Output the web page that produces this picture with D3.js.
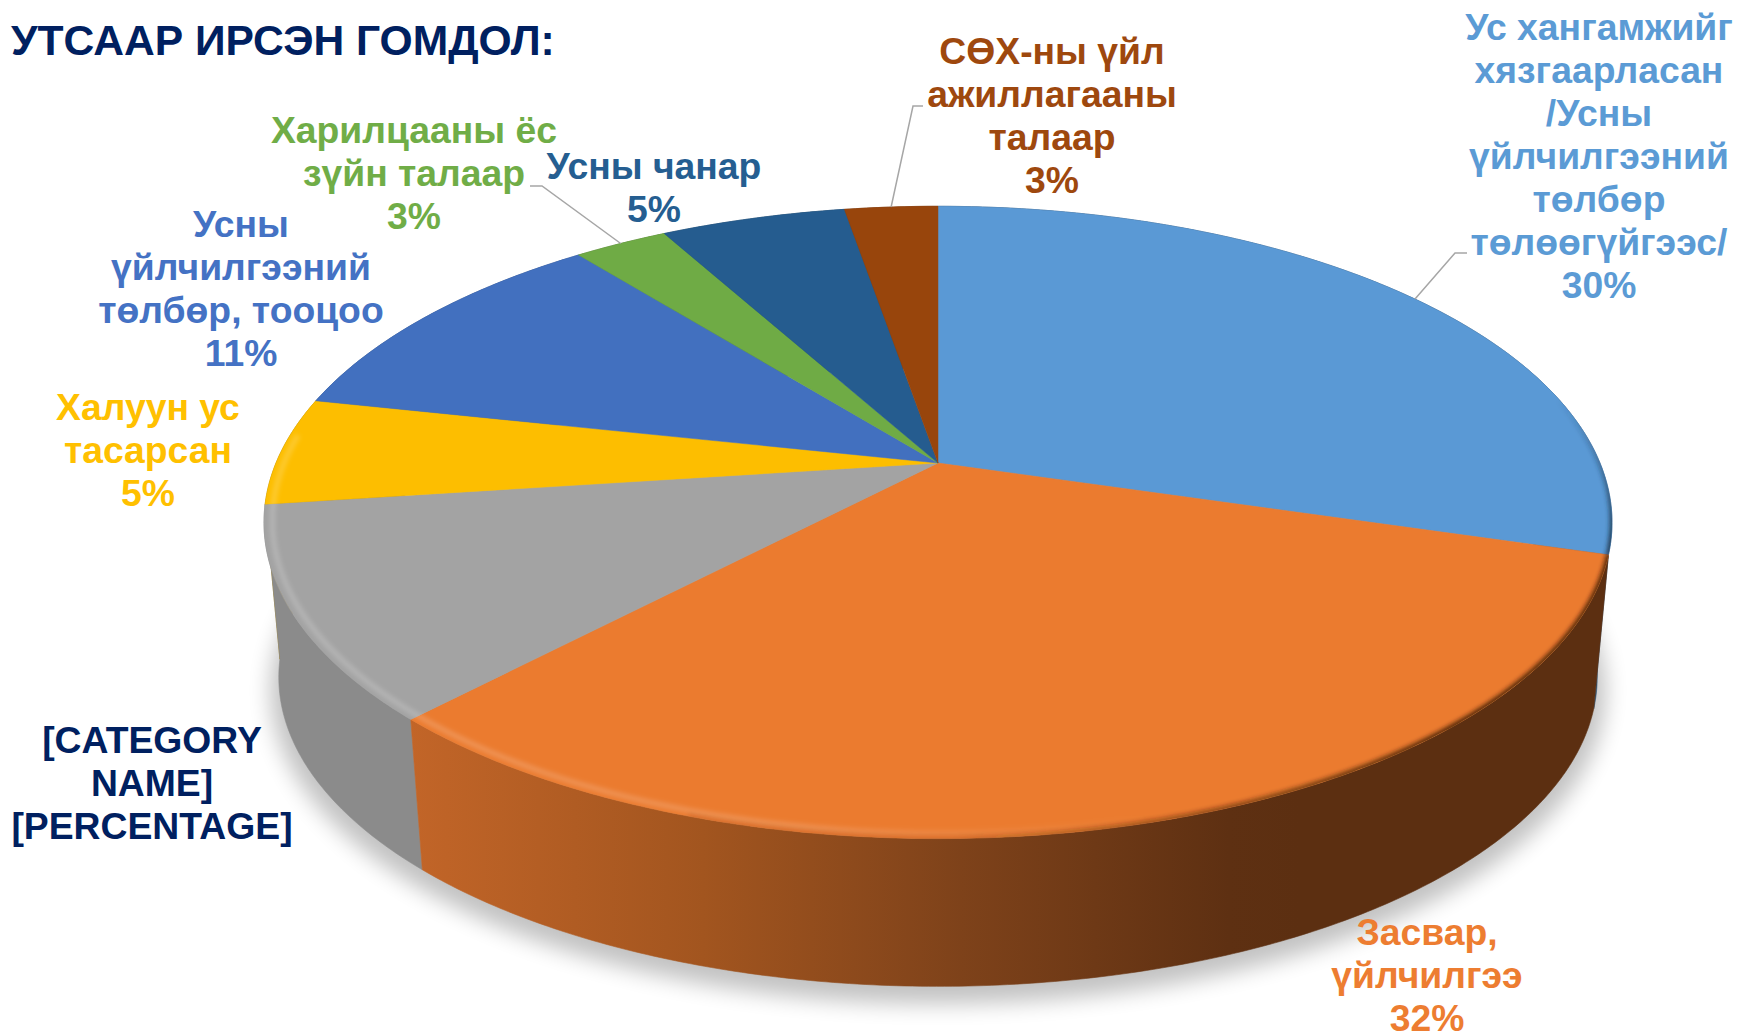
<!DOCTYPE html>
<html>
<head>
<meta charset="utf-8">
<script src="https://cdn.jsdelivr.net/npm/d3@7"></script>
<style>
  body { margin: 0; background: #fff; }
  text { font-family: "Liberation Sans", Arial, sans-serif; font-weight: 700; }
</style>
</head>
<body>
<div id="dataviz"></div>
<script>
const titleText = "УТСААР ИРСЭН ГОМДОЛ:";
const categories = ["Ус хангамж", "Засвар", "Бусад", "Халуун ус", "Төлбөр", "Харилцаа", "Чанар", "СӨХ"];
const values = [29.6, 32.47, 10.83, 5.5, 10.9, 2.7, 5.32, 2.68];
const percentLabels = ["30%", "32%", "", "5%", "11%", "3%", "5%", "3%"];
const labelLines = [
  ["Ус хангамжийг", "хязгаарласан", "/Усны", "үйлчилгээний", "төлбөр", "төлөөгүйгээс/"],
  ["Засвар,", "үйлчилгээ"],
  ["[CATEGORY", "NAME]", "[PERCENTAGE]"],
  ["Халуун ус", "тасарсан"],
  ["Усны", "үйлчилгээний", "төлбөр, тооцоо"],
  ["Харилцааны ёс", "зүйн талаар"],
  ["Усны чанар"],
  ["СӨХ-ны үйл", "ажиллагааны", "талаар"]
];
const topColors = ["#5a99d5", "#eb7b2f", "#a3a3a3", "#fdbe00", "#4270bf", "#6fab45", "#255c8f", "#98450c"];
const textColors = ["#5b9bd5", "#ed7d31", "#002060", "#ffc000", "#4472c4", "#70ad47", "#255e91", "#9e480e"];
const wallColors = ["#2f516e", "url(#wallOrange)", "#8b8b8b", "#a87f00", "#2c4a80", "#49712e", "#183d5e", "#672f09"];

// label anchor: centre x, first baseline
const labelX = [1599, 1427, 152, 148, 241, 414, 654, 1052];
const labelY = [40, 945, 753, 420, 237, 143, 179, 64];
const lineHeight = 43;
// leader lines: index of slice, elbow and end of the horizontal bit
const leaders = [
  { slice: 0, elbow: [1455, 253], end: [1467, 253] },
  { slice: 5, elbow: [542, 186], end: [530, 186] },
  { slice: 7, elbow: [913, 106], end: [923, 106] }
];

const width = 1741, height = 1033;
const cx = 938, cy = 463, A = 662, B = 305, k = 0.188;
const depth = 156, bottomScale = 0.978;

// perspective projection of a point of the disc, angle clockwise from top
function project(angle, r, bottom) {
  const u = r * Math.sin(angle), v = -r * Math.cos(angle);
  const w = 1 - k * v;
  const s = bottom ? bottomScale : 1;
  return [cx + s * A * u / w, cy + (bottom ? depth : 0) + s * B * v / w];
}

function arcPoints(a0, a1, r, bottom) {
  const n = Math.max(2, Math.ceil(Math.abs(a1 - a0) / 0.01));
  return d3.range(n + 1).map(i => project(a0 + (a1 - a0) * i / n, r, bottom));
}

const line = d3.line();
const slices = d3.pie().sort(null).value(d => d)(values);

const svg = d3.select("#dataviz").append("svg")
  .attr("width", width)
  .attr("height", height)
  .style("display", "block");

const defs = svg.append("defs");

const wallGrad = defs.append("linearGradient")
  .attr("id", "wallOrange")
  .attr("gradientUnits", "userSpaceOnUse")
  .attr("x1", 410).attr("x2", 1300).attr("y1", 0).attr("y2", 0);
[[0, "#c26528"], [0.33, "#a2551f"], [0.62, "#7e421a"], [0.92, "#5e3012"], [1, "#5c2f11"]].forEach(s =>
  wallGrad.append("stop").attr("offset", s[0]).attr("stop-color", s[1]));

const shineGrad = defs.append("linearGradient")
  .attr("id", "shine")
  .attr("gradientUnits", "userSpaceOnUse")
  .attr("x1", 260).attr("x2", 1150).attr("y1", 0).attr("y2", 0);
[[0, 0.17], [0.6, 0.15], [1, 0]].forEach(s =>
  shineGrad.append("stop").attr("offset", s[0]).attr("stop-color", "#fff").attr("stop-opacity", s[1]));

const darkGrad = defs.append("linearGradient")
  .attr("id", "dark")
  .attr("gradientUnits", "userSpaceOnUse")
  .attr("x1", 950).attr("x2", 1450).attr("y1", 0).attr("y2", 0);
[[0, 0.1], [1, 0.8]].forEach(s =>
  darkGrad.append("stop").attr("offset", s[0]).attr("stop-color", "#3a1c08").attr("stop-opacity", s[1]));

const blueEdgeGrad = defs.append("linearGradient")
  .attr("id", "blueEdge")
  .attr("gradientUnits", "userSpaceOnUse")
  .attr("x1", 0).attr("x2", 0).attr("y1", 400).attr("y2", 540);
[[0, 0], [1, 0.85]].forEach(s =>
  blueEdgeGrad.append("stop").attr("offset", s[0]).attr("stop-color", "#1c3448").attr("stop-opacity", s[1]));

defs.append("filter").attr("id", "shadowBlur")
  .attr("x", "-10%").attr("y", "-10%").attr("width", "120%").attr("height", "120%")
  .append("feGaussianBlur").attr("stdDeviation", 11);
defs.append("filter").attr("id", "rimBlur")
  .attr("x", "-5%").attr("y", "-5%").attr("width", "110%").attr("height", "110%")
  .append("feGaussianBlur").attr("stdDeviation", 2);

const topOutline = arcPoints(0, 2 * Math.PI, 1, false);
defs.append("clipPath").attr("id", "topClip")
  .append("path").attr("d", line(topOutline) + "Z");

// soft shadow under the pie
svg.append("path")
  .attr("d", line(arcPoints(0, 2 * Math.PI, 1.012, true)) + "Z")
  .attr("transform", "translate(0,12)")
  .attr("fill", "#000")
  .attr("opacity", 0.24)
  .attr("filter", "url(#shadowBlur)");

// side walls, the two big front slices go last
svg.append("g").selectAll("path")
  .data([0, 3, 4, 5, 6, 7, 2, 1])
  .join("path")
  .attr("d", i => {
    const s = slices[i];
    const top = arcPoints(s.startAngle, s.endAngle, 1, false);
    const bot = arcPoints(s.endAngle, s.startAngle, 1, true);
    return line(top.concat(bot)) + "Z";
  })
  .attr("fill", i => wallColors[i])
  .attr("stroke", i => wallColors[i])
  .attr("stroke-width", 0.6);

// top faces
svg.append("g").selectAll("path")
  .data(slices)
  .join("path")
  .attr("d", s => line([[cx, cy]].concat(arcPoints(s.startAngle, s.endAngle, 1, false))) + "Z")
  .attr("fill", (s, i) => topColors[i])
  .attr("stroke", (s, i) => topColors[i])
  .attr("stroke-width", 0.5);

// bevel on the rim
const rim = svg.append("g").attr("clip-path", "url(#topClip)");
rim.append("path")
  .attr("d", line(arcPoints(Math.PI * 0.85, Math.PI * 1.53, 0.988, false)))
  .attr("fill", "none")
  .attr("stroke", "url(#shine)")
  .attr("stroke-width", 6)
  .attr("filter", "url(#rimBlur)");
rim.append("path")
  .attr("d", line(arcPoints(slices[1].startAngle, Math.PI * 1.1, 1.002, false)))
  .attr("fill", "none")
  .attr("stroke", "url(#dark)")
  .attr("stroke-width", 8)
  .attr("filter", "url(#rimBlur)");
rim.append("path")
  .attr("d", line(arcPoints(Math.PI * 0.42, slices[0].endAngle, 1.002, false)))
  .attr("fill", "none")
  .attr("stroke", "url(#blueEdge)")
  .attr("stroke-width", 8)
  .attr("filter", "url(#rimBlur)");

// leader lines
svg.append("g").selectAll("path")
  .data(leaders)
  .join("path")
  .attr("d", d => {
    const s = slices[d.slice];
    return line([project((s.startAngle + s.endAngle) / 2, 1, false), d.elbow, d.end]);
  })
  .attr("fill", "none")
  .attr("stroke", "#a6a6a6")
  .attr("stroke-width", 1.5);

// labels
const labels = svg.append("g").selectAll("text")
  .data(categories)
  .join("text")
  .attr("text-anchor", "middle")
  .attr("font-size", 37.3)
  .attr("fill", (d, i) => textColors[i]);

labels.each(function(d, i) {
  const lines = percentLabels[i] ? labelLines[i].concat(percentLabels[i]) : labelLines[i];
  d3.select(this).selectAll("tspan")
    .data(lines)
    .join("tspan")
    .attr("x", labelX[i])
    .attr("y", (l, j) => labelY[i] + j * lineHeight)
    .text(l => l);
});

svg.append("text")
  .attr("x", 11)
  .attr("y", 55)
  .attr("font-size", 42.6)
  .attr("fill", "#002060")
  .text(titleText);
</script>
</body>
</html>
